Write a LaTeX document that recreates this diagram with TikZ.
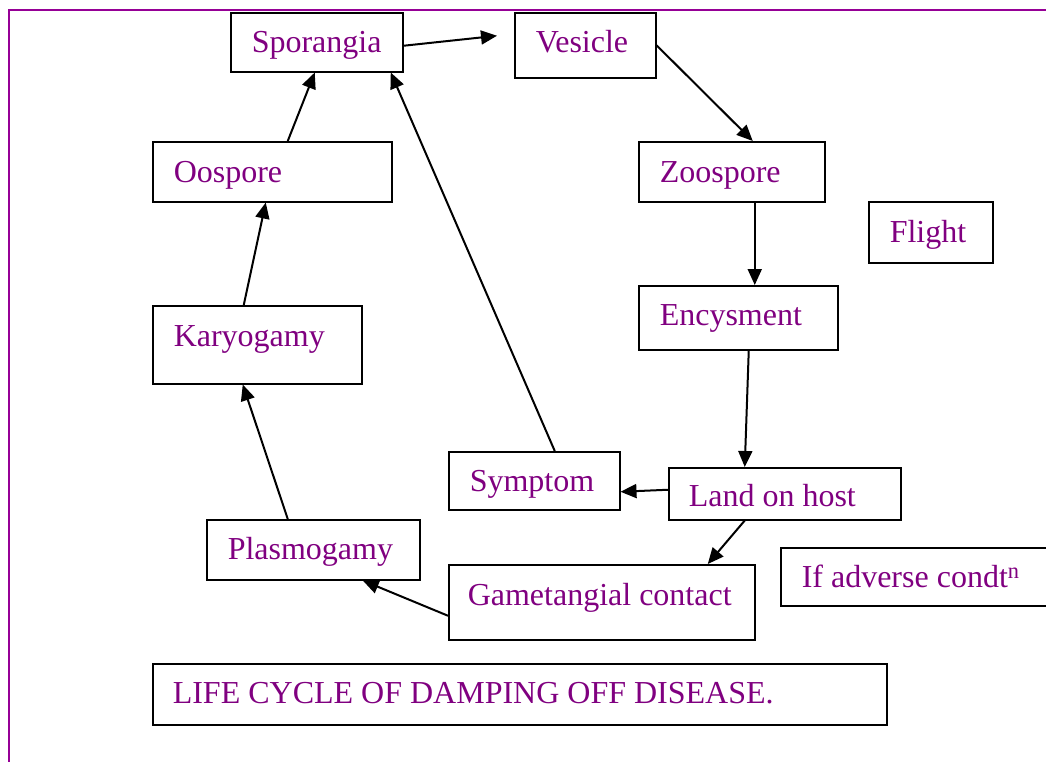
\documentclass[tikz,border=0pt]{standalone}
\usepackage{fontspec}
\setmainfont{Liberation Serif}
\usepackage{tikz}
\usetikzlibrary{arrows.meta}
\definecolor{DampText}{RGB}{128,0,128}
\definecolor{DampFrame}{RGB}{150,0,150}

\begin{document}
\begin{tikzpicture}[x=1pt,y=-1pt,
  stage/.style={draw=black,line width=1.5pt,text=DampText,font=\fontsize{32pt}{38pt}\selectfont,
    align=flush left,inner xsep=21pt,inner ysep=0pt,anchor=north west},
  flow/.style={-{Triangle[length=16pt,width=14pt]},line width=2pt,black}]
  \useasboundingbox (0,0) rectangle (1046,761);
  \clip (0,0) rectangle (1046,761);
  \draw[DampFrame,line width=2.5pt] (9,775) -- (9,10) -- (1060,10);
  % stages of the cycle
  \node[stage,text width=130pt,text height=40pt,text depth=19pt] (spor) at (230,12) {Sporangia};
  \node[stage,text width=99pt,text height=40pt,text depth=25pt] (ves) at (514,12) {Vesicle};
  \node[stage,text width=197pt,text height=41pt,text depth=19pt] (oos) at (152,141) {Oospore};
  \node[stage,text width=144pt,text height=41pt,text depth=19pt] (zoo) at (638,141) {Zoospore};
  \node[stage,text width=82pt,text height=41pt,text depth=20pt] (flight) at (868,201) {Flight};
  \node[stage,text width=157pt,text height=40pt,text depth=24pt] (ency) at (638,285) {Encysment};
  \node[stage,text width=167pt,text height=41pt,text depth=37pt] (kary) at (152,305) {Karyogamy};
  \node[stage,text width=129pt,text height=40pt,text depth=18pt] (symp) at (448,451) {Symptom};
  \node[stage,inner xsep=20pt,text width=192pt,text height=39pt,text depth=13pt] (land) at (668,467) {Land on host};
  \node[stage,text width=171pt,text height=40pt,text depth=20pt] (plas) at (206,519) {Plasmogamy};
  \node[stage,inner xsep=19pt,text width=268pt,text height=41pt,text depth=34pt] (game) at (448,564) {Gametangial contact};
  \node[stage,text width=234pt,text height=40pt,text depth=18pt] (adv) at (780,547) {If adverse condt\textsuperscript{n}};
  \node[stage,inner xsep=20pt,text width=694pt,text height=40pt,text depth=21pt] (title) at (152,663) {LIFE CYCLE OF DAMPING OFF DISEASE.};
  % connectors
  \draw[flow] ([yshift=-3.5pt]spor.east) -- ([xshift=-17pt,yshift=9.5pt]ves.west);
  \draw[flow] (ves.east) -- ([xshift=21pt]zoo.north);
  \draw[flow] ([xshift=23pt]zoo.south) -- ([xshift=16.5pt]ency.north);
  \draw[flow] ([xshift=10.5pt]ency.south) -- ([xshift=-40pt]land.north);
  \draw[flow] ([yshift=4pt]land.west) -- ([yshift=-11pt]symp.east);
  \draw[flow] ([xshift=-40pt]land.south) -- ([xshift=106pt]game.north);
  \draw[flow] ([yshift=-13.5pt]game.west) -- ([xshift=49.5pt]plas.south);
  \draw[flow] ([xshift=-25.5pt]plas.north) -- ([xshift=-14.5pt]kary.south);
  \draw[flow] ([xshift=-13.5pt]kary.north) -- ([xshift=-6.5pt]oos.south);
  \draw[flow] ([xshift=15.5pt]oos.north) -- ([xshift=-2pt]spor.south);
  \draw[flow] ([xshift=20.5pt]symp.north) -- ([xshift=74pt]spor.south);
\end{tikzpicture}
\end{document}
